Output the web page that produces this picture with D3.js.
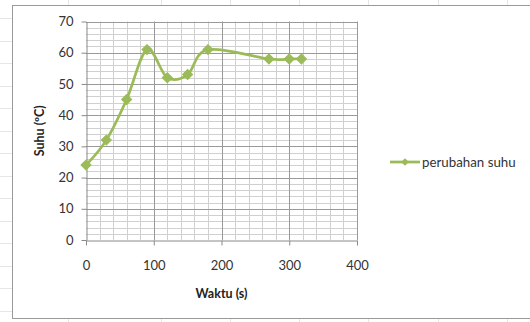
<!DOCTYPE html>
<html><head><meta charset="utf-8">
<script src="https://cdn.jsdelivr.net/npm/d3@7"></script>
<style>body{margin:0;background:#fff}svg{display:block}</style>
</head><body>
<svg id="c" width="530" height="322"></svg>
<script>
const times = [0, 30, 60, 90, 120, 150, 180, 270, 300, 318];
const temps = [24, 32, 45, 61, 52, 53, 61, 58, 58, 58];
const xTicks = [0, 100, 200, 300, 400];
const yTicks = [0, 10, 20, 30, 40, 50, 60, 70];
const seriesName = "perubahan suhu";
const xTitle = "Waktu (s)";
const yTitle = "Suhu (ºC)";

const svg = d3.select("#c");
const font = "Lato, 'Open Sans', sans-serif";

// spreadsheet background
const bg = svg.append("g").attr("stroke", "#e6e6e6").attr("stroke-width", 1);
[68, 161, 230, 299, 368, 438, 507].forEach(x => bg.append("line").attr("x1", x + .5).attr("x2", x + .5).attr("y1", 0).attr("y2", 5));
[68, 161, 230, 299, 368, 438, 507].forEach(x => bg.append("line").attr("x1", x + .5).attr("x2", x + .5).attr("y1", 319).attr("y2", 322));
d3.range(18, 322, 22.5).forEach(y => bg.append("line").attr("x1", 0).attr("x2", 12).attr("y1", Math.round(y) + .5).attr("y2", Math.round(y) + .5));

// chart area border
svg.append("rect").attr("x", 12.5).attr("y", 5.5).attr("width", 530).attr("height", 313)
  .attr("fill", "#fff").attr("stroke", "#9a9a9a");

const x = d3.scaleLinear().domain([0, 400]).range([86, 357]);
const y = d3.scaleLinear().domain([0, 70]).range([240, 21.5]);

// minor grid
const g = svg.append("g");
g.selectAll(".mv").data(d3.range(20, 400, 20).filter(v => v % 100)).join("line")
  .attr("x1", d => Math.round(x(d)) + .5).attr("x2", d => Math.round(x(d)) + .5)
  .attr("y1", y(70)).attr("y2", y(0)).attr("stroke", "#d0d0d0");
g.selectAll(".mh").data(d3.range(2, 70, 2).filter(v => v % 10)).join("line")
  .attr("y1", d => Math.round(y(d)) + .5).attr("y2", d => Math.round(y(d)) + .5)
  .attr("x1", x(0)).attr("x2", x(400)).attr("stroke", "#d0d0d0");
// major grid
g.selectAll(".Mv").data(xTicks.slice(1)).join("line")
  .attr("x1", d => Math.round(x(d)) + .5).attr("x2", d => Math.round(x(d)) + .5)
  .attr("y1", y(70)).attr("y2", y(0)).attr("stroke", "#9a9a9a");
g.selectAll(".Mh").data(yTicks.slice(1)).join("line")
  .attr("y1", d => Math.round(y(d)) + .5).attr("y2", d => Math.round(y(d)) + .5)
  .attr("x1", x(0)).attr("x2", x(400)).attr("stroke", "#9a9a9a");

// axes
const xa = svg.append("g").attr("transform", `translate(0,${Math.round(y(0)) + .5})`)
  .call(d3.axisBottom(x).tickValues(xTicks).tickSize(5).tickSizeOuter(0).tickPadding(15));
const ya = svg.append("g").attr("transform", `translate(${Math.round(x(0)) + .5},0)`)
  .call(d3.axisLeft(y).tickValues(yTicks).tickSize(5).tickSizeOuter(0).tickPadding(8));
[xa, ya].forEach(a => {
  a.select(".domain").attr("stroke", "#8a8a8a");
  a.selectAll(".tick line").attr("stroke", "#8a8a8a");
  a.selectAll("text").attr("font-family", font).attr("font-size", 13).attr("fill", "#333");
});

// titles
svg.append("text").attr("x", (x(0) + x(400)) / 2).attr("y", 298).attr("text-anchor", "middle")
  .attr("font-family", font).attr("font-weight", "bold").attr("font-size", 12.5).attr("fill", "#222").text(xTitle);
svg.append("text").attr("transform", `translate(44,${(y(0) + y(70)) / 2}) rotate(-90)`).attr("text-anchor", "middle")
  .attr("font-family", font).attr("font-weight", "bold").attr("font-size", 12.5).attr("fill", "#222").text(yTitle);

// series
const color = "#9bbb59";
const pts = times.map((t, i) => [t, temps[i]]);
const line = d3.line().x(d => x(d[0])).y(d => y(d[1])).curve(d3.curveCardinal.tension(0));
svg.append("path").attr("d", line(pts)).attr("fill", "none").attr("stroke", color).attr("stroke-width", 2.75);
const diamond = d3.symbol().type(d3.symbolSquare).size(50);
svg.selectAll(".pt").data(pts).join("path")
  .attr("transform", d => `translate(${x(d[0])},${y(d[1])}) rotate(45)`)
  .attr("d", diamond).attr("fill", color).attr("stroke", color).attr("stroke-width", 1);

// legend
const ly = 162;
svg.append("line").attr("x1", 390).attr("x2", 420).attr("y1", ly).attr("y2", ly).attr("stroke", color).attr("stroke-width", 2.75);
svg.append("path").attr("transform", `translate(405,${ly}) rotate(45)`).attr("d", d3.symbol().type(d3.symbolSquare).size(30)).attr("fill", color);
svg.append("text").attr("x", 422).attr("y", ly + 4.5).attr("font-family", font).attr("font-size", 13.3).attr("fill", "#333").text(seriesName);
</script>
</body></html>
